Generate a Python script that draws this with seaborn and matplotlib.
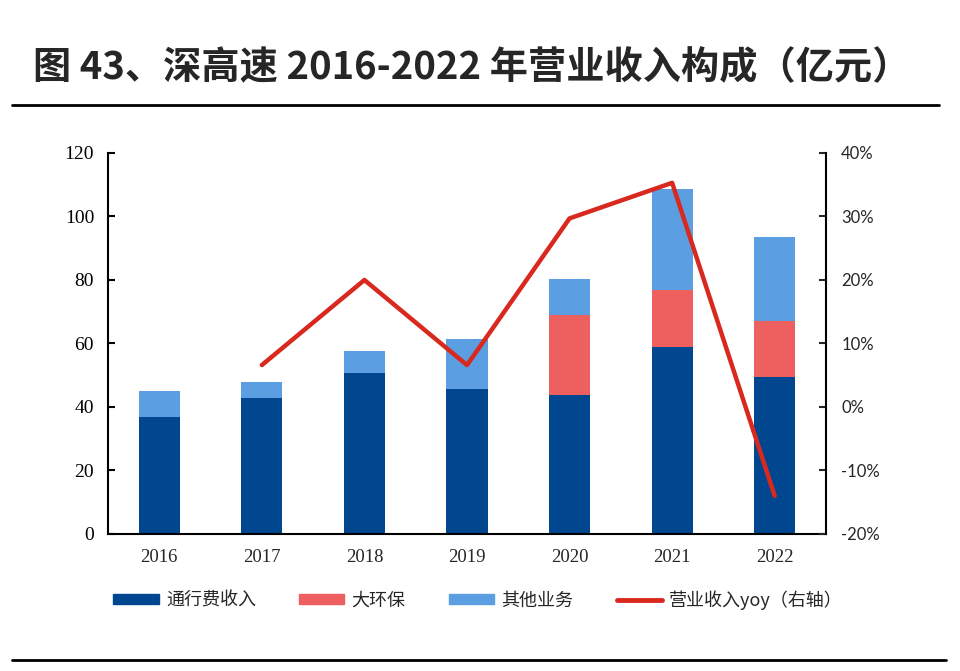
import numpy as np
import pandas as pd
import matplotlib
matplotlib.use("Agg")
import matplotlib.pyplot as plt
import matplotlib.patches as mpatches
import matplotlib.lines as mlines
import seaborn as sns

# data (亿元 / %)
years = ['2016', '2017', '2018', '2019', '2020', '2021', '2022']
toll = [36.7, 42.7, 50.6, 45.7, 43.8, 58.8, 49.4]
env = [0, 0, 0, 0, 25.2, 17.9, 17.7]
other = [8.4, 5.3, 7.1, 15.8, 11.2, 31.9, 26.3]
yoy_years = ['2017', '2018', '2019', '2020', '2021', '2022']
yoy = [6.6, 20.0, 6.6, 29.7, 35.3, -14.0]

c_toll = '#00478F'
c_env = '#EE5F5F'
c_other = '#5C9EE2'
c_line = '#D9291F'

sns.set_style("white")
plt.rcParams['font.family'] = ['Noto Sans CJK SC', 'DejaVu Sans']

df = pd.DataFrame({'year': years, 'toll': toll, 'env': env, 'other': other})
df['lvl2'] = df['toll'] + df['env']
df['lvl3'] = df['lvl2'] + df['other']

fig = plt.figure(figsize=(9.6, 6.71), dpi=100)
ax = fig.add_axes([0.1125, 0.2042, 0.7479, 0.5678])

# stacked bars drawn back to front
for col, c in (('lvl3', c_other), ('lvl2', c_env), ('toll', c_toll)):
    sns.barplot(data=df, x='year', y=col, color=c, width=0.4, ax=ax,
                saturation=1, linewidth=0, edgecolor='none')
ax.set_xlim(-0.5, 6.5)
ax.set_ylim(0, 120)
ax.set_yticks(range(0, 121, 20))
ax.set_xlabel('')
ax.set_ylabel('')

ax2 = ax.twinx()
xpos = [years.index(y) for y in yoy_years]
sns.lineplot(x=xpos, y=yoy, color=c_line, linewidth=3.2, ax=ax2)
ax2.set_ylim(-20, 40)
ax2.set_yticks(range(-20, 41, 10))
ax2.set_yticklabels([f'{v}%' for v in range(-20, 41, 10)])
ax.set_xlim(-0.5, 6.5)

for a in (ax, ax2):
    for s in a.spines.values():
        s.set_visible(False)
    a.grid(False)

ax.spines['left'].set_visible(True)
ax.spines['bottom'].set_visible(True)
ax2.spines['right'].set_visible(True)
for s in (ax.spines['left'], ax.spines['bottom'], ax2.spines['right']):
    s.set_color('black')
    s.set_linewidth(1.5)

ax.tick_params(axis='y', direction='in', length=5, width=1.5, pad=10, colors='black')
ax.tick_params(axis='x', length=0, pad=11)
ax2.tick_params(axis='y', direction='in', length=5, width=1.5, pad=11)
for t in ax.get_yticklabels():
    t.set_family('Liberation Serif')
    t.set_fontsize(14)
for t in ax.get_xticklabels():
    t.set_family('Liberation Serif')
    t.set_fontsize(13.5)
for t in ax2.get_yticklabels():
    t.set_family('Lato')
    t.set_fontsize(12)

# title and rules
fig.text(0.034, 0.899, '图 43、深高速 2016-2022 年营业收入构成（亿元）',
         fontsize=27.5, fontweight='bold', va='center', ha='left')
fig.add_artist(mlines.Line2D([0.012, 0.978], [0.8435, 0.8435], color='black', linewidth=2))
fig.add_artist(mlines.Line2D([0.012, 0.985], [0.0164, 0.0164], color='black', linewidth=2))

handles = [
    mpatches.Patch(color=c_toll, label='通行费收入'),
    mpatches.Patch(color=c_env, label='大环保'),
    mpatches.Patch(color=c_other, label='其他业务'),
    mlines.Line2D([], [], color=c_line, linewidth=3.5, label='营业收入yoy（右轴）'),
]
fig.legend(handles=handles, loc='center', bbox_to_anchor=(0.498, 0.106), ncol=4,
           frameon=False, fontsize=13, handlelength=2.5, handleheight=0.45,
           columnspacing=2.4, handletextpad=0.4)

fig.savefig('out.png', dpi=100)
